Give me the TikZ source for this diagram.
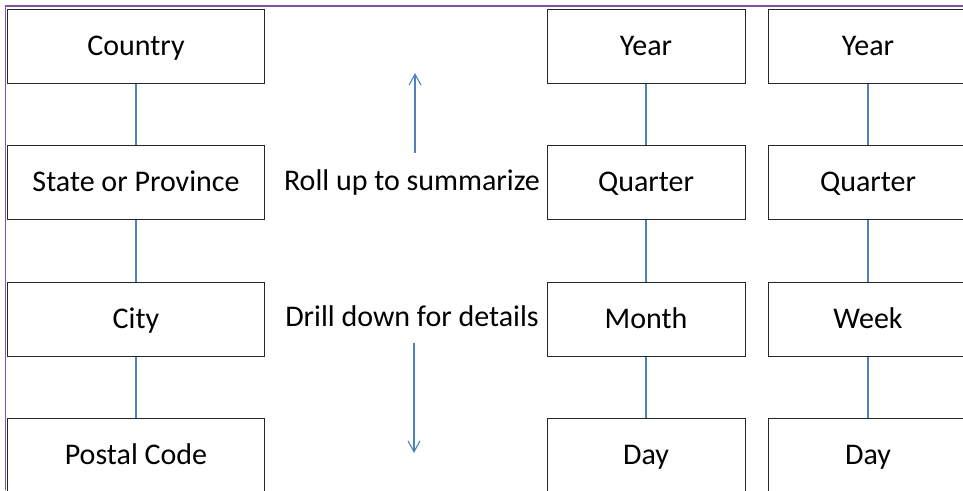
\documentclass[tikz,border=0pt]{standalone}
\usepackage{fontspec}
\setmainfont{Carlito}
\usetikzlibrary{positioning,arrows.meta}
\definecolor{linkblue}{RGB}{79,129,189}
\definecolor{framepurple}{RGB}{128,84,160}
\tikzset{
  level box/.style={
    draw=black!85,
    line width=1pt,
    fill=white,
    minimum width={#1pt},
    minimum height={74pt},
    text height=24pt,
    text depth=6pt,
    font=\fontsize{30}{36}\selectfont,
  },
  link/.style={
    draw=linkblue,
    line width=1.1pt,
  },
  hint/.style={
    text height=24pt,
    text depth=6pt,
    font=\fontsize{30}{36}\selectfont,
  },
  roll arrow/.style={
    link,
    -{Straight Barb[length=11pt,width=12pt]},
  }
}

\begin{document}
\begin{tikzpicture}[x=1pt,y=-1pt,node distance=61.5pt and 22pt]
        \clip (0,0) rectangle (963,490);
        \draw [framepurple, line width=1.3pt] (5.5,490) -- (5.5,6) -- (963,6);

        % location hierarchy
        \node [level box=257] (country) at (136,46) {Country};
        \node [level box=257, below=of country] (state) {State or Province};
        \node [level box=257, below=of state] (city) {City};
        \node [level box=257, below=of city] (postal) {Postal Code};

        % calendar by month
        \node [level box=198] (year1) at (646,46) {Year};
        \node [level box=198, below=of year1] (quarter1) {Quarter};
        \node [level box=198, below=of quarter1] (month1) {Month};
        \node [level box=198, below=of month1] (day1) {Day};

        % calendar by week
        \node [level box=200, right=of year1] (year2) {Year};
        \node [level box=200, below=of year2] (quarter2) {Quarter};
        \node [level box=200, below=of quarter2] (week2) {Week};
        \node [level box=200, below=of week2] (day2) {Day};

        \draw [link] (country) -- (state) -- (city) -- (postal);
        \draw [link] (year1) -- (quarter1) -- (month1) -- (day1);
        \draw [link] (year2) -- (quarter2) -- (week2) -- (day2);

        \node [hint] (roll) at (412,181) {Roll up to summarize};
        \node [hint] (drill) at (412,317) {Drill down for details};

        \coordinate (roll top) at (415,73);
        \coordinate (roll foot) at (415,153);
        \coordinate (drill top) at (414,343);
        \coordinate (drill foot) at (414,453);
        \draw [roll arrow] (roll foot) -- (roll top);
        \draw [roll arrow] (drill top) -- (drill foot);
      \end{tikzpicture}
\end{document}
